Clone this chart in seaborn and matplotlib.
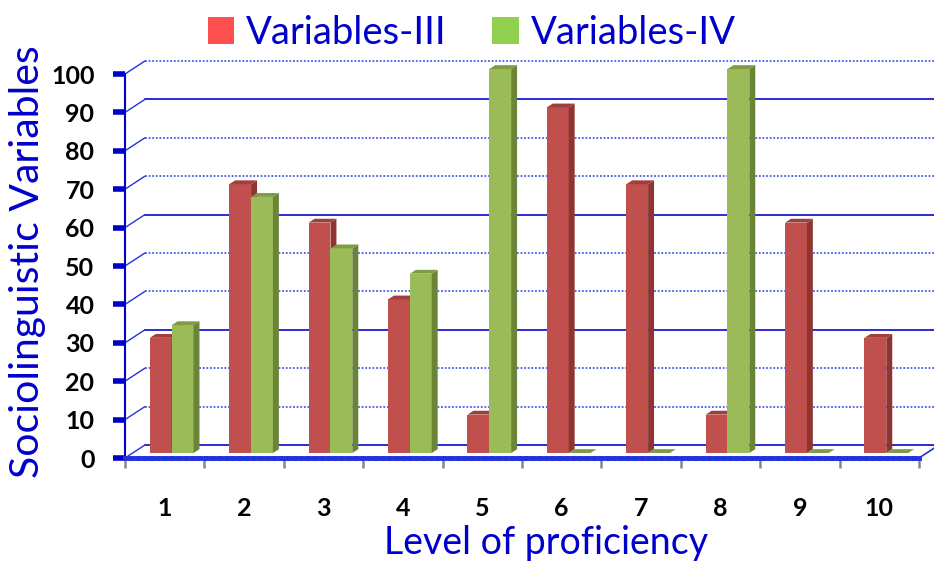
import matplotlib
matplotlib.use('Agg')
import matplotlib.pyplot as plt
import seaborn as sns
import pandas as pd
from matplotlib.patches import Polygon, Patch

levels = ['1', '2', '3', '4', '5', '6', '7', '8', '9', '10']
var3 = [30, 70, 60, 40, 10, 90, 70, 10, 60, 30]
var4 = [33.3, 66.7, 53.3, 46.7, 100, 0, 0, 100, 0, 0]
series = ['Variables-III', 'Variables-IV']
yticks = list(range(0, 101, 10))

df = pd.DataFrame({
    'level': levels * 2,
    'value': var3 + var4,
    'series': [series[0]] * len(levels) + [series[1]] * len(levels),
})

sns.set_theme(style='white')
plt.rcParams['font.family'] = ['Lato', 'DejaVu Sans']

BLUE = '#0000CC'
front = {series[0]: '#C0504D', series[1]: '#9BBB59'}
side = {series[0]: '#8E3431', series[1]: '#6A8536'}
top = {series[0]: '#A13F3C', series[1]: '#7E9C44'}
legend_col = {series[0]: '#FF5050', series[1]: '#92D050'}

fig = plt.figure(figsize=(9.34, 5.64), dpi=100)
ax = fig.add_axes([125 / 934, 106 / 564, 794 / 934, 384 / 564])

sns.barplot(data=df, x='level', y='value', hue='series', palette=front,
            width=0.55, ax=ax, legend=False, saturation=1,
            edgecolor='none', linewidth=0)

ax.set_xlim(-0.5, len(levels) - 0.5)
ax.set_ylim(0, 100)

# 3D-like offsets (data units)
dxb, dyb = 0.252, 3.4      # back wall
ox, oy = 0.088, 1.3        # bar front faces
sx, sy = 0.075, 1.0        # bar depth

# back wall gridlines and connectors
for v in yticks:
    solid = v % 30 == 0
    ls = '-' if solid else (0, (1, 1))
    col = '#1a1ad0' if solid else '#4a5ae8'
    ax.plot([-0.5 + dxb, len(levels) - 0.5 + dxb + 0.3], [v + dyb, v + dyb],
            color=col, lw=1.3, ls=ls, clip_on=False, zorder=1)
    ax.plot([-0.5, -0.5 + dxb], [v, v + dyb], color='#2233dd', lw=1.0,
            clip_on=False, zorder=1)
# right floor diagonal
ax.plot([len(levels) - 0.5, len(levels) - 0.5 + dxb], [0, dyb], color='#2233dd',
        lw=1.2, clip_on=False, zorder=1)

for k, cont in enumerate(ax.containers):
    name = series[k]
    z = 3 + k
    for p in cont.patches:
        x0 = p.get_x() + ox
        w = p.get_width()
        h = p.get_height()
        p.set_x(x0)
        p.set_y(oy)
        p.set_zorder(z)
        p.set_clip_on(False)
        b = oy
        t = oy + h
        ax.add_patch(Polygon([(x0 + w, b), (x0 + w, t), (x0 + w + sx, t + sy),
                              (x0 + w + sx, b + sy)], closed=True,
                             facecolor=side[name], edgecolor='none', zorder=z,
                             clip_on=False))
        ax.add_patch(Polygon([(x0, t), (x0 + w, t), (x0 + w + sx, t + sy),
                              (x0 + sx, t + sy)], closed=True,
                             facecolor=top[name], edgecolor='none', zorder=z,
                             clip_on=False))

# axes styling
for s in ['top', 'right']:
    ax.spines[s].set_visible(False)
ax.spines['left'].set_color(BLUE)
ax.spines['left'].set_linewidth(1.5)
ax.spines['bottom'].set_color('#2233dd')
ax.spines['bottom'].set_linewidth(3.5)
ax.spines['bottom'].set_linestyle((0, (1, 0.4)))

ax.set_yticks(yticks)
ax.set_yticklabels([str(v) for v in yticks], fontweight='bold', fontsize=18,
                   color='black')
ax.tick_params(axis='y', direction='out', length=9, width=4, color=BLUE, pad=13,
               left=True)

ax.set_xticks(range(len(levels)))
ax.set_xticklabels(levels, fontweight='bold', fontsize=18, color='black')
ax.set_xticks([i - 0.5 for i in range(len(levels) + 1)], minor=True)
ax.tick_params(axis='x', which='major', length=0, pad=28, bottom=True)
ax.tick_params(axis='x', which='minor', length=7, width=1.8, color='#888888',
               bottom=True)

ax.set_xlabel('Level of proficiency', fontsize=27, color=BLUE)
ax.xaxis.set_label_coords((546 - 125) / 794, -0.175)
ax.set_ylabel('Sociolinguistic Variables', fontsize=29.5, color=BLUE)
ax.yaxis.set_label_coords(-0.1, (564 - 262 - 106) / 384)
ax.grid(False)
ax.set_facecolor('none')

handles = [Patch(facecolor=legend_col[s], edgecolor='none') for s in series]
fig.legend(handles, series, loc='upper center', bbox_to_anchor=(0.505, 1.035),
           ncol=2, frameon=False, fontsize=27.5, labelcolor=BLUE,
           handlelength=0.7, handleheight=0.7, handletextpad=0.3,
           columnspacing=1.2)

fig.savefig('out.png', dpi=100)
